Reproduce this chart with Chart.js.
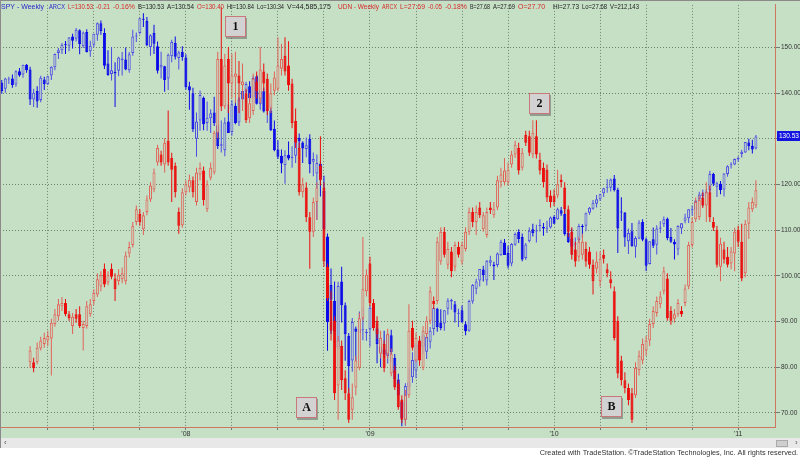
<!DOCTYPE html>
<html>
<head>
<meta charset="utf-8">
<script src="https://cdn.jsdelivr.net/npm/chart.js@4.4.1/dist/chart.umd.min.js"></script>
<style>
  html, body { margin: 0; padding: 0; background: #fff; }
  #wrap { width: 800px; height: 457px; }
</style>
</head>
<body>
<div id="wrap"><canvas id="spyUdn" width="800" height="457"></canvas></div>
<script>
// weekly bars, week 0 = first week of Jan 2007
const spyOpen = [
  142.3,141.0,143.0,143.2,141.9,144.8,144.1,146.2,145.2,138.6,140.5,138.5,143.0,
  142.0,143.9,145.7,148.8,149.4,150.7,150.4,152.4,151.9,153.8,150.3,153.4,149.2,
  150.6,152.8,155.3,153.2,146.5,144.2,144.7,144.9,147.2,147.4,145.0,148.8,152.4,
  153.2,156.2,155.8,150.1,153.2,150.3,145.6,145.9,143.2,148.1,151.0,147.7,149.0,
  147.8,141.5,140.0,130.0,134.0,139.0,133.5,134.5,135.8,133.0,128.5,127.5,133.8,
  131.5,137.2,133.6,138.6,140.3,141.5,139.1,143.7,137.6,140.4,136.3,136.2,132.2,
  127.7,126.3,124.3,126.5,125.8,126.3,130.2,129.2,127.8,130.0,125.0,122.4,124.5,
  118.6,108.6,98.0,94.5,84.4,98.8,93.6,86.9,81.5,88.5,87.5,88.1,87.5,
  88.3,93.2,88.5,84.5,83.9,82.4,87.0,82.0,77.3,72.5,68.5,75.7,77.8,
  79.3,83.8,84.5,83.4,85.6,88.4,92.8,89.8,89.6,92.8,94.4,93.8,91.7,
  92.5,89.4,88.0,94.4,97.2,99.0,101.4,99.0,102.9,102.5,102.4,104.5,107.3,
  105.0,102.7,106.8,109.6,108.5,103.9,107.6,110.2,109.7,110.9,110.7,110.3,110.6,
  112.9,112.4,114.4,113.6,109.4,108.2,106.9,107.8,110.9,111.0,113.8,114.7,115.8,
  116.8,118.1,119.3,119.3,121.3,118.8,114.0,113.9,107.6,109.8,106.4,108.2,111.8,
  108.0,102.6,108.0,106.8,110.3,111.3,112.5,108.5,107.5,105.8,110.4,112.1,112.6,
  114.4,114.5,116.7,117.5,118.2,118.7,122.3,119.5,120.2,118.9,122.3,124.2,124.4,
  125.5,126.7,127.0,129.2,128.5,127.9
];
const spyHigh = [
  142.9,143.4,143.6,144.1,145.0,145.5,146.2,146.4,145.8,141.0,141.5,143.8,143.6,
  143.8,145.9,148.7,149.9,151.0,151.4,152.3,153.0,154.3,154.0,153.5,154.0,151.5,
  153.0,155.5,155.9,154.2,149.4,150.1,146.8,148.0,149.0,150.0,149.0,153.9,153.3,
  156.5,157.5,156.7,152.9,155.0,151.3,149.1,146.0,148.7,151.7,152.4,149.3,150.3,
  148.5,142.5,141.2,135.8,140.6,139.3,138.2,136.5,139.2,134.0,134.0,134.7,137.5,
  138.5,138.2,139.1,140.8,142.5,142.6,143.7,144.0,140.4,141.2,137.2,137.5,134.0,
  129.7,127.7,127.5,129.4,128.4,130.8,131.2,129.5,130.3,131.0,127.0,126.6,125.0,
  121.9,109.3,101.6,98.8,98.7,102.0,94.2,87.5,90.8,88.9,92.2,92.8,88.4,
  93.4,94.0,89.5,86.5,88.0,87.4,88.2,82.9,78.6,73.0,76.5,80.0,83.3,
  85.4,86.2,87.9,88.0,88.8,93.0,93.0,92.7,92.5,95.1,95.0,94.5,92.8,
  93.5,90.0,94.8,98.2,99.4,101.5,102.2,103.5,104.4,103.1,105.1,107.9,108.1,
  106.6,107.2,109.5,110.2,109.3,107.2,110.6,111.4,111.2,112.4,111.6,112.1,113.0,
  113.3,114.9,115.1,115.0,111.0,110.4,108.4,111.4,111.3,113.9,115.1,116.6,117.7,
  118.0,119.3,121.2,121.3,122.1,119.3,117.2,114.0,110.4,111.6,108.7,112.2,112.4,
  108.4,107.6,110.6,111.1,112.0,113.0,112.8,110.5,108.0,111.1,111.6,113.6,114.6,
  115.4,116.6,118.4,118.9,119.0,123.0,122.6,120.6,120.8,122.5,124.2,124.9,125.7,
  126.2,127.6,129.3,130.0,129.8,130.84
];
const spyLow = [
  139.9,140.1,142.0,141.2,141.4,143.6,143.4,144.5,137.4,137.0,136.8,138.0,140.7,
  141.8,142.9,145.0,147.5,148.6,148.6,149.2,149.8,151.3,148.5,149.9,148.9,148.0,
  150.0,151.5,152.8,145.3,143.8,142.8,137.0,143.7,143.9,145.0,144.5,148.2,151.2,
  152.9,154.5,150.3,148.2,148.6,144.3,143.2,140.3,140.7,146.8,147.4,145.2,147.1,
  140.8,136.4,131.5,126.1,131.8,131.9,131.8,131.3,132.8,127.8,127.0,126.2,131.3,
  130.7,133.2,132.8,137.4,137.9,138.1,138.7,137.5,136.4,135.8,133.5,131.7,127.3,
  125.6,122.5,120.2,125.3,123.7,124.7,127.8,124.7,126.0,122.5,121.8,112.3,117.4,
  109.8,83.6,87.3,84.6,83.8,89.8,81.4,74.3,79.0,81.4,84.0,85.9,85.8,
  84.5,88.9,80.9,80.0,82.1,80.8,81.1,75.8,73.4,67.1,67.2,74.9,76.6,
  77.6,81.5,82.9,81.8,84.1,87.0,87.8,88.1,88.0,91.5,92.6,89.8,88.8,
  89.8,87.0,87.8,93.9,96.0,97.7,98.8,97.9,102.1,99.1,101.9,104.4,104.6,
  101.6,102.1,106.6,107.2,103.2,103.5,107.3,108.6,107.3,109.7,108.8,109.4,110.4,
  111.4,112.3,113.1,108.8,107.2,104.6,105.5,107.5,108.4,109.8,113.4,114.5,115.0,
  116.4,117.3,118.2,118.5,118.5,105.0,112.0,106.4,104.8,106.4,104.0,108.0,107.6,
  101.1,102.5,106.1,104.7,109.4,110.7,107.8,107.2,103.6,104.5,109.2,111.5,111.6,
  113.2,113.4,116.1,115.2,117.4,117.9,119.7,117.3,117.9,117.4,121.7,123.5,124.2,
  125.0,125.9,126.9,127.5,126.8,127.7
];
const spyClose = [
  140.5,143.2,143.0,141.8,144.8,143.9,146.2,145.0,138.6,140.1,138.2,143.4,142.0,
  143.7,145.8,148.6,149.4,150.6,150.5,152.2,151.5,153.9,150.7,153.3,149.0,150.4,
  153.0,155.3,153.6,146.0,144.0,145.0,144.3,147.8,147.6,145.2,148.5,152.4,152.6,
  156.4,156.1,150.5,152.7,150.8,144.9,146.2,142.9,148.4,151.2,148.0,148.9,147.9,
  141.3,140.6,132.1,133.8,139.6,133.2,134.6,135.6,133.4,128.4,128.8,133.6,131.3,
  137.6,133.5,138.6,140.5,142.0,138.9,143.3,137.7,140.4,136.0,136.4,131.9,127.5,
  126.1,124.6,126.4,125.7,126.1,130.5,129.4,127.9,128.6,124.5,125.6,124.7,121.3,
  110.2,89.9,94.8,87.8,97.8,93.6,87.2,80.3,89.9,87.8,88.3,88.2,87.6,
  93.0,89.5,85.1,83.2,82.8,87.1,83.3,77.4,73.9,68.8,75.9,76.7,81.6,
  84.9,85.8,87.0,86.6,88.0,93.0,88.8,88.6,92.5,94.6,94.8,92.0,91.9,
  89.8,87.9,94.5,98.0,98.8,101.5,100.2,103.3,103.4,102.1,104.9,107.5,104.6,
  102.2,107.0,109.2,108.1,103.6,106.9,109.9,109.4,109.8,110.9,110.4,110.3,112.8,
  111.4,114.6,113.6,109.2,107.4,106.4,107.0,110.9,110.7,113.7,114.9,116.0,116.8,
  117.9,119.2,119.4,121.1,118.8,110.4,113.9,108.4,109.4,106.5,108.3,111.7,107.9,
  102.2,107.6,106.6,110.4,110.6,112.4,108.3,107.5,106.9,110.9,111.5,112.8,114.6,
  114.6,116.5,117.8,118.1,118.5,122.3,120.2,120.3,118.8,122.4,124.0,124.3,125.6,
  125.8,127.2,129.3,128.4,127.7,130.53
];

// UDN starts trading in week 8
const udnStart = 8;
const udnOpen = [
  25.08,25.08,25.08,25.29,25.36,
  25.41,25.44,25.66,25.78,25.93,25.98,25.81,25.63,25.81,25.81,25.60,25.63,25.81,
  26.01,26.11,26.23,26.50,26.29,26.50,26.35,26.31,26.34,26.31,26.73,26.86,27.21,
  27.33,27.10,27.36,27.55,27.70,28.11,28.23,28.08,28.44,28.18,28.06,27.36,27.16,
  27.66,27.73,27.84,27.51,27.93,27.99,27.40,27.88,27.96,28.56,29.68,28.96,29.68,
  29.31,29.41,29.43,29.28,29.16,28.78,28.89,29.34,29.08,29.49,29.38,28.93,29.20,
  29.23,29.53,29.73,29.58,29.31,28.74,28.33,27.66,27.73,27.28,27.06,27.51,28.06,
  27.73,26.53,26.01,25.71,24.73,25.33,24.84,24.61,24.36,24.70,25.00,25.75,26.16,
  26.58,25.98,25.71,25.21,25.36,25.21,24.91,24.96,24.76,24.51,24.21,24.58,25.60,
  25.11,25.41,25.00,25.51,25.71,26.01,26.01,26.61,27.06,26.56,26.76,26.53,26.83,
  26.61,26.80,27.06,27.36,27.21,27.43,27.10,27.01,27.43,27.31,27.43,27.81,27.81,
  27.81,28.08,28.23,28.33,28.03,28.53,28.51,28.23,28.51,28.15,28.03,28.00,27.61,
  27.61,27.61,27.85,27.73,27.40,27.06,26.79,26.68,26.71,26.80,26.76,26.56,26.50,
  26.31,26.71,26.49,26.34,26.16,25.71,25.11,24.81,24.69,24.61,24.58,24.96,25.11,
  25.26,25.41,25.66,25.83,25.96,26.16,26.35,25.86,25.74,25.81,25.86,25.98,26.23,
  26.86,27.25,27.28,27.58,27.46,27.66,27.21,27.09,26.53,26.79,26.68,26.58,26.73,
  27.09,26.91,26.43,27.18,27.40,27.46
];
const udnHigh = [
  25.33,25.15,25.38,25.47,25.53,
  25.56,25.74,25.89,26.04,26.07,26.04,25.86,25.83,25.89,25.93,25.71,26.01,26.04,
  26.19,26.43,26.46,26.58,26.46,26.58,26.43,26.49,26.52,26.76,26.91,27.21,27.46,
  27.40,27.36,27.61,27.81,28.02,28.38,28.29,28.48,28.90,28.26,28.11,27.43,27.72,
  27.84,27.93,27.90,28.03,28.11,28.05,27.84,28.11,28.59,29.79,30.46,29.76,29.86,
  29.76,29.79,29.65,29.61,29.23,29.16,29.46,29.49,29.86,29.61,29.46,29.31,29.49,
  30.01,29.91,30.01,29.95,29.38,28.93,28.41,27.88,27.81,27.36,27.58,27.81,28.51,
  27.81,26.58,26.16,25.78,25.48,25.41,24.96,24.69,24.76,25.18,25.83,26.98,26.49,
  26.68,26.04,25.78,25.56,25.41,25.59,25.29,25.03,24.81,24.58,24.66,25.96,25.71,
  25.53,25.48,25.63,25.78,26.23,26.08,26.98,27.13,27.13,26.91,26.83,26.91,26.91,
  26.91,27.13,27.43,27.43,27.46,27.51,27.36,27.43,27.51,27.51,27.91,28.03,28.18,
  28.11,28.29,28.44,28.41,28.33,28.59,28.59,28.75,28.75,28.26,28.11,28.08,27.69,
  27.70,28.00,27.93,27.81,27.46,27.13,26.91,26.98,27.03,26.91,26.83,26.64,26.76,
  26.76,26.79,26.58,26.46,26.23,25.78,25.18,24.93,24.76,24.69,25.08,25.26,25.44,
  25.48,25.74,25.93,26.08,26.16,26.53,26.43,25.93,25.89,26.04,25.93,26.26,26.91,
  27.28,27.58,27.61,27.66,27.81,27.76,27.28,27.15,26.97,26.91,26.83,26.83,27.12,
  27.15,27.18,27.24,27.51,27.58,27.84
];
const udnLow = [
  25.00,24.93,25.05,25.26,25.30,
  25.33,24.88,25.62,25.71,25.86,25.78,25.71,25.51,25.68,25.60,25.26,25.59,25.77,
  25.95,26.07,26.16,26.22,26.25,26.34,26.01,26.25,26.28,26.26,26.67,26.82,27.16,
  27.15,27.01,27.31,27.51,27.66,28.06,28.06,27.96,28.06,27.51,27.58,27.03,27.12,
  27.61,27.66,27.58,27.46,27.84,27.46,27.36,27.84,27.93,28.48,28.89,28.92,28.86,
  29.08,29.01,28.86,28.89,28.71,28.71,28.83,29.08,29.01,29.19,28.83,28.86,29.13,
  29.19,29.43,29.43,29.20,28.63,28.33,27.61,27.58,27.21,26.50,26.98,27.24,27.76,
  26.53,26.01,25.41,24.51,24.21,24.66,24.51,24.16,24.21,24.58,24.96,25.71,26.08,
  25.93,25.56,25.44,25.14,24.93,25.14,24.87,24.66,24.36,24.16,24.13,24.54,25.26,
  25.08,25.03,24.96,25.44,25.66,25.89,25.96,26.56,26.67,26.49,26.37,26.46,26.67,
  26.56,26.76,27.01,27.13,27.01,27.27,27.06,26.97,27.33,27.27,27.39,27.73,27.76,
  27.76,28.03,28.18,27.93,27.99,28.36,28.21,28.18,28.17,27.93,27.73,27.51,27.43,
  27.45,27.57,27.73,27.33,26.98,26.64,26.53,26.61,26.64,26.53,26.50,26.11,26.43,
  26.23,26.58,26.37,26.20,25.41,24.84,24.73,24.61,24.43,24.16,24.54,24.88,25.05,
  25.18,25.33,25.60,25.77,25.90,26.11,25.71,25.65,25.68,25.77,25.77,25.93,26.19,
  26.82,27.21,27.24,27.42,27.21,27.21,27.07,26.52,26.31,26.58,26.52,26.49,26.46,
  26.83,26.31,26.37,26.95,27.36,27.42
];
const udnClose = [
  25.26,24.99,25.30,25.41,25.45,
  25.48,25.68,25.81,25.96,25.98,25.81,25.75,25.77,25.74,25.63,25.66,25.93,25.96,
  26.13,26.34,26.40,26.26,26.40,26.38,26.19,26.41,26.43,26.70,26.83,27.15,27.40,
  27.21,27.31,27.55,27.76,27.96,28.33,28.11,28.41,28.11,28.00,27.66,27.15,27.66,
  27.78,27.85,27.66,27.96,28.03,27.54,27.78,28.03,28.56,29.68,28.96,29.58,29.31,
  29.43,29.46,29.31,29.34,28.75,29.01,29.38,29.19,29.52,29.31,28.89,29.16,29.40,
  29.58,29.68,29.49,29.28,28.71,28.41,27.66,27.78,27.28,27.06,27.51,27.73,27.84,
  26.61,26.05,25.56,24.61,25.41,24.81,24.61,24.21,24.55,25.11,25.75,26.19,26.41,
  25.98,25.60,25.51,25.45,24.99,25.51,25.21,24.70,24.40,24.21,24.58,25.56,25.30,
  25.45,25.11,25.56,25.71,26.16,25.96,26.91,27.06,26.71,26.80,26.46,26.86,26.71,
  26.86,27.06,27.36,27.21,27.36,27.31,27.31,27.36,27.39,27.40,27.84,27.93,27.99,
  28.00,28.23,28.38,27.99,28.26,28.41,28.26,28.56,28.23,27.99,27.81,27.58,27.51,
  27.51,27.78,27.81,27.40,27.06,26.71,26.61,26.91,26.91,26.61,26.56,26.31,26.61,
  26.65,26.65,26.43,26.28,25.45,24.91,24.81,24.69,24.51,24.21,25.00,25.18,25.36,
  25.41,25.66,25.86,26.01,26.08,26.46,25.75,25.71,25.81,25.98,25.81,26.20,26.86,
  27.21,27.51,27.54,27.46,27.66,27.28,27.12,26.56,26.88,26.64,26.56,26.76,27.06,
  26.91,26.35,27.18,27.43,27.51,27.69
];

// axis ticks
const priceTicks = [70, 80, 90, 100, 110, 120, 130, 140, 150];
const gridWeeks = [13, 26, 39, 52, 65, 78, 91, 104, 117, 130, 143, 156, 169, 182, 195, 208];
const yearWeeks = [52, 104, 156, 208];
const yearTicks = ["'08", "'09", "'10", "'11"];

const BG = 'rgb(198,224,198)';
const GRID = 'rgba(95,115,95,0.85)';
const AXIS_LINE = 'rgb(205,118,98)';
const SPY_UP = 'rgb(75,75,228)';
const SPY_DN = 'rgb(10,10,232)';
const UDN_UP = 'rgb(226,96,86)';
const UDN_DN = 'rgb(236,12,12)';
const FONT = '"Liberation Sans", Arial, sans-serif';

function candles(open, high, low, close, start, upCol, dnCol) {
  const wick = [], body = [], wickCol = [], fill = [], line = [];
  close.forEach((c, k) => {
    const x = start + k, down = c < open[k];
    wick.push({x: x, y: [low[k], high[k]]});
    body.push({x: x, y: [open[k], c]});
    wickCol.push(down ? dnCol : upCol);
    fill.push(down ? dnCol : BG);
    line.push(down ? dnCol : upCol);
  });
  return {wick, body, wickCol, fill, line};
}

const spy = candles(spyOpen, spyHigh, spyLow, spyClose, 0, SPY_UP, SPY_DN);
const udn = candles(udnOpen, udnHigh, udnLow, udnClose, udnStart, UDN_UP, UDN_DN);

function bodySet(c, axis) {
  return {
    data: c.body, yAxisID: axis, grouped: false, barThickness: 3, minBarLength: 1,
    backgroundColor: c.fill, borderColor: c.line, borderWidth: 1,
    borderSkipped: false, inflateAmount: 0
  };
}
function wickSet(c, axis) {
  return {
    data: c.wick, yAxisID: axis, grouped: false, barThickness: 1,
    backgroundColor: c.wickCol, borderWidth: 0, inflateAmount: 0
  };
}

const RED_T = 'rgb(215,40,40)', BLUE_T = 'rgb(40,40,200)', INK = '#222';
const headerParts = [
  ['SPY - Weekly', BLUE_T, 1], ['ARCX', BLUE_T, 49],
  ['L=130.53', RED_T, 68], ['-0.21', RED_T, 96], ['-0.16%', RED_T, 113],
  ['B=130.53', INK, 138], ['A=130.54', INK, 167], ['O=130.40', RED_T, 197],
  ['Hi=130.84', INK, 227], ['Lo=130.34', INK, 257], ['V=44,585,175', INK, 287],
  ['UDN - Weekly', RED_T, 338], ['ARCX', RED_T, 382],
  ['L=27.69', RED_T, 400], ['-0.05', RED_T, 428], ['-0.18%', RED_T, 445],
  ['B=27.68', INK, 470], ['A=27.69', INK, 493], ['O=27.70', RED_T, 518],
  ['Hi=27.73', INK, 553], ['Lo=27.68', INK, 582], ['V=212,143', INK, 610]
];

// chart annotations, placed in week / SPY-price units
const notes = [
  {text: '1', week: 65.9, price: 154.6},
  {text: '2', week: 151.7, price: 137.6},
  {text: 'A', week: 85.9, price: 71.0},
  {text: 'B', week: 172.1, price: 71.2}
];

const frame = {
  id: 'frame',
  beforeDraw(chart) {
    const ctx = chart.ctx;
    ctx.save();
    ctx.fillStyle = '#fff';
    ctx.fillRect(0, 0, 800, 457);
    ctx.fillStyle = BG;
    ctx.fillRect(0, 0, 800, 438);
    ctx.fillStyle = '#e8e8e8';
    ctx.fillRect(0, 438, 800, 10);
    ctx.restore();
  },
  afterDatasetsDraw(chart) {
    const ctx = chart.ctx, xs = chart.scales.x, ys = chart.scales.y;
    ctx.save();
    notes.forEach(n => {
      const cx = Math.round(xs.getPixelForValue(n.week)), cy = Math.round(ys.getPixelForValue(n.price));
      ctx.fillStyle = 'rgba(90,90,90,0.5)';
      ctx.fillRect(cx - 9, cy - 9, 21, 21);
      ctx.fillStyle = '#d2d2d2';
      ctx.fillRect(cx - 10, cy - 11, 21, 21);
      ctx.strokeStyle = 'rgb(200,120,120)';
      ctx.lineWidth = 1;
      ctx.strokeRect(cx - 9.5, cy - 10.5, 20, 20);
      ctx.fillStyle = '#111';
      ctx.font = 'bold 12px "Liberation Serif", "DejaVu Serif", serif';
      ctx.textAlign = 'center';
      ctx.textBaseline = 'middle';
      ctx.fillText(n.text, cx + 0.5, cy);
    });
    ctx.restore();
  },
  afterDraw(chart) {
    const ctx = chart.ctx, ys = chart.scales.y;
    ctx.save();
    ctx.font = '7px ' + FONT;
    ctx.textBaseline = 'alphabetic';
    headerParts.forEach(([t, col, x], k) => {
      const next = k + 1 < headerParts.length ? headerParts[k + 1][2] : x + 32;
      ctx.fillStyle = col;
      ctx.fillText(t, x, 9, next - x - 3);
    });
    // last SPY price on the scale
    const last = spyClose[spyClose.length - 1];
    const py = Math.round(ys.getPixelForValue(last));
    ctx.fillStyle = 'rgb(20,20,225)';
    ctx.fillRect(777, py - 5, 23, 10);
    ctx.fillStyle = '#fff';
    ctx.font = '6.5px ' + FONT;
    ctx.textBaseline = 'middle';
    ctx.fillText(last.toFixed(2), 779, py + 0.5);
    // frame edges and scroll strip
    ctx.strokeStyle = '#8a8a8a';
    ctx.lineWidth = 1;
    ctx.beginPath();
    ctx.moveTo(0.5, 0); ctx.lineTo(0.5, 448);
    ctx.moveTo(0, 0.5); ctx.lineTo(800, 0.5);
    ctx.stroke();
    ctx.fillStyle = '#555';
    ctx.font = '8px ' + FONT;
    ctx.fillText('\u2039', 4, 443);
    ctx.fillText('\u203A', 795, 443);
    ctx.fillStyle = '#cfcfcf';
    ctx.fillRect(776, 440, 12, 7);
    ctx.strokeStyle = '#aaa';
    ctx.strokeRect(776.5, 440.5, 11, 6);
    ctx.fillStyle = '#333';
    ctx.font = '7.3px ' + FONT;
    ctx.textAlign = 'right';
    ctx.textBaseline = 'alphabetic';
    ctx.fillText('Created with TradeStation. \u00A9TradeStation Technologies, Inc. All rights reserved.', 798, 455);
    ctx.restore();
  }
};

new Chart(document.getElementById('spyUdn'), {
  type: 'bar',
  data: {
    datasets: [
      bodySet(udn, 'yU'), wickSet(udn, 'yU'),
      bodySet(spy, 'y'), wickSet(spy, 'y')
    ]
  },
  options: {
    responsive: false,
    maintainAspectRatio: false,
    animation: false,
    events: [],
    layout: { padding: { top: 1, bottom: 19, left: 0, right: 0 } },
    plugins: { legend: { display: false }, tooltip: { enabled: false } },
    scales: {
      x: {
        type: 'linear', min: -0.5, max: 218.4, offset: false,
        afterBuildTicks: ax => { ax.ticks = gridWeeks.map(v => ({ value: v })); },
        afterFit: ax => { ax.height = 11; },
        grid: { color: GRID, lineWidth: 1, offset: false, tickLength: 3, tickColor: '#777' },
        border: { display: true, color: AXIS_LINE, width: 1, dash: [1, 2] },
        ticks: {
          autoSkip: false, maxRotation: 0, padding: 0, color: '#333',
          font: { family: FONT, size: 7 },
          callback: v => { const k = yearWeeks.indexOf(v); return k < 0 ? '' : yearTicks[k]; }
        }
      },
      y: {
        position: 'right', min: 66.92, max: 159.33,
        afterBuildTicks: ax => { ax.ticks = priceTicks.map(v => ({ value: v })); },
        afterFit: ax => { ax.width = 25; },
        grid: { color: GRID, lineWidth: 1, tickLength: 5, tickColor: '#777' },
        border: { display: true, color: AXIS_LINE, width: 1, dash: [1, 2] },
        ticks: {
          padding: 1, color: '#333', font: { family: FONT, size: 6.5 },
          callback: v => v.toFixed(2)
        }
      },
      yU: { display: false, min: 24.1, max: 30.5 }
    }
  },
  plugins: [frame]
});
</script>
</body>
</html>
